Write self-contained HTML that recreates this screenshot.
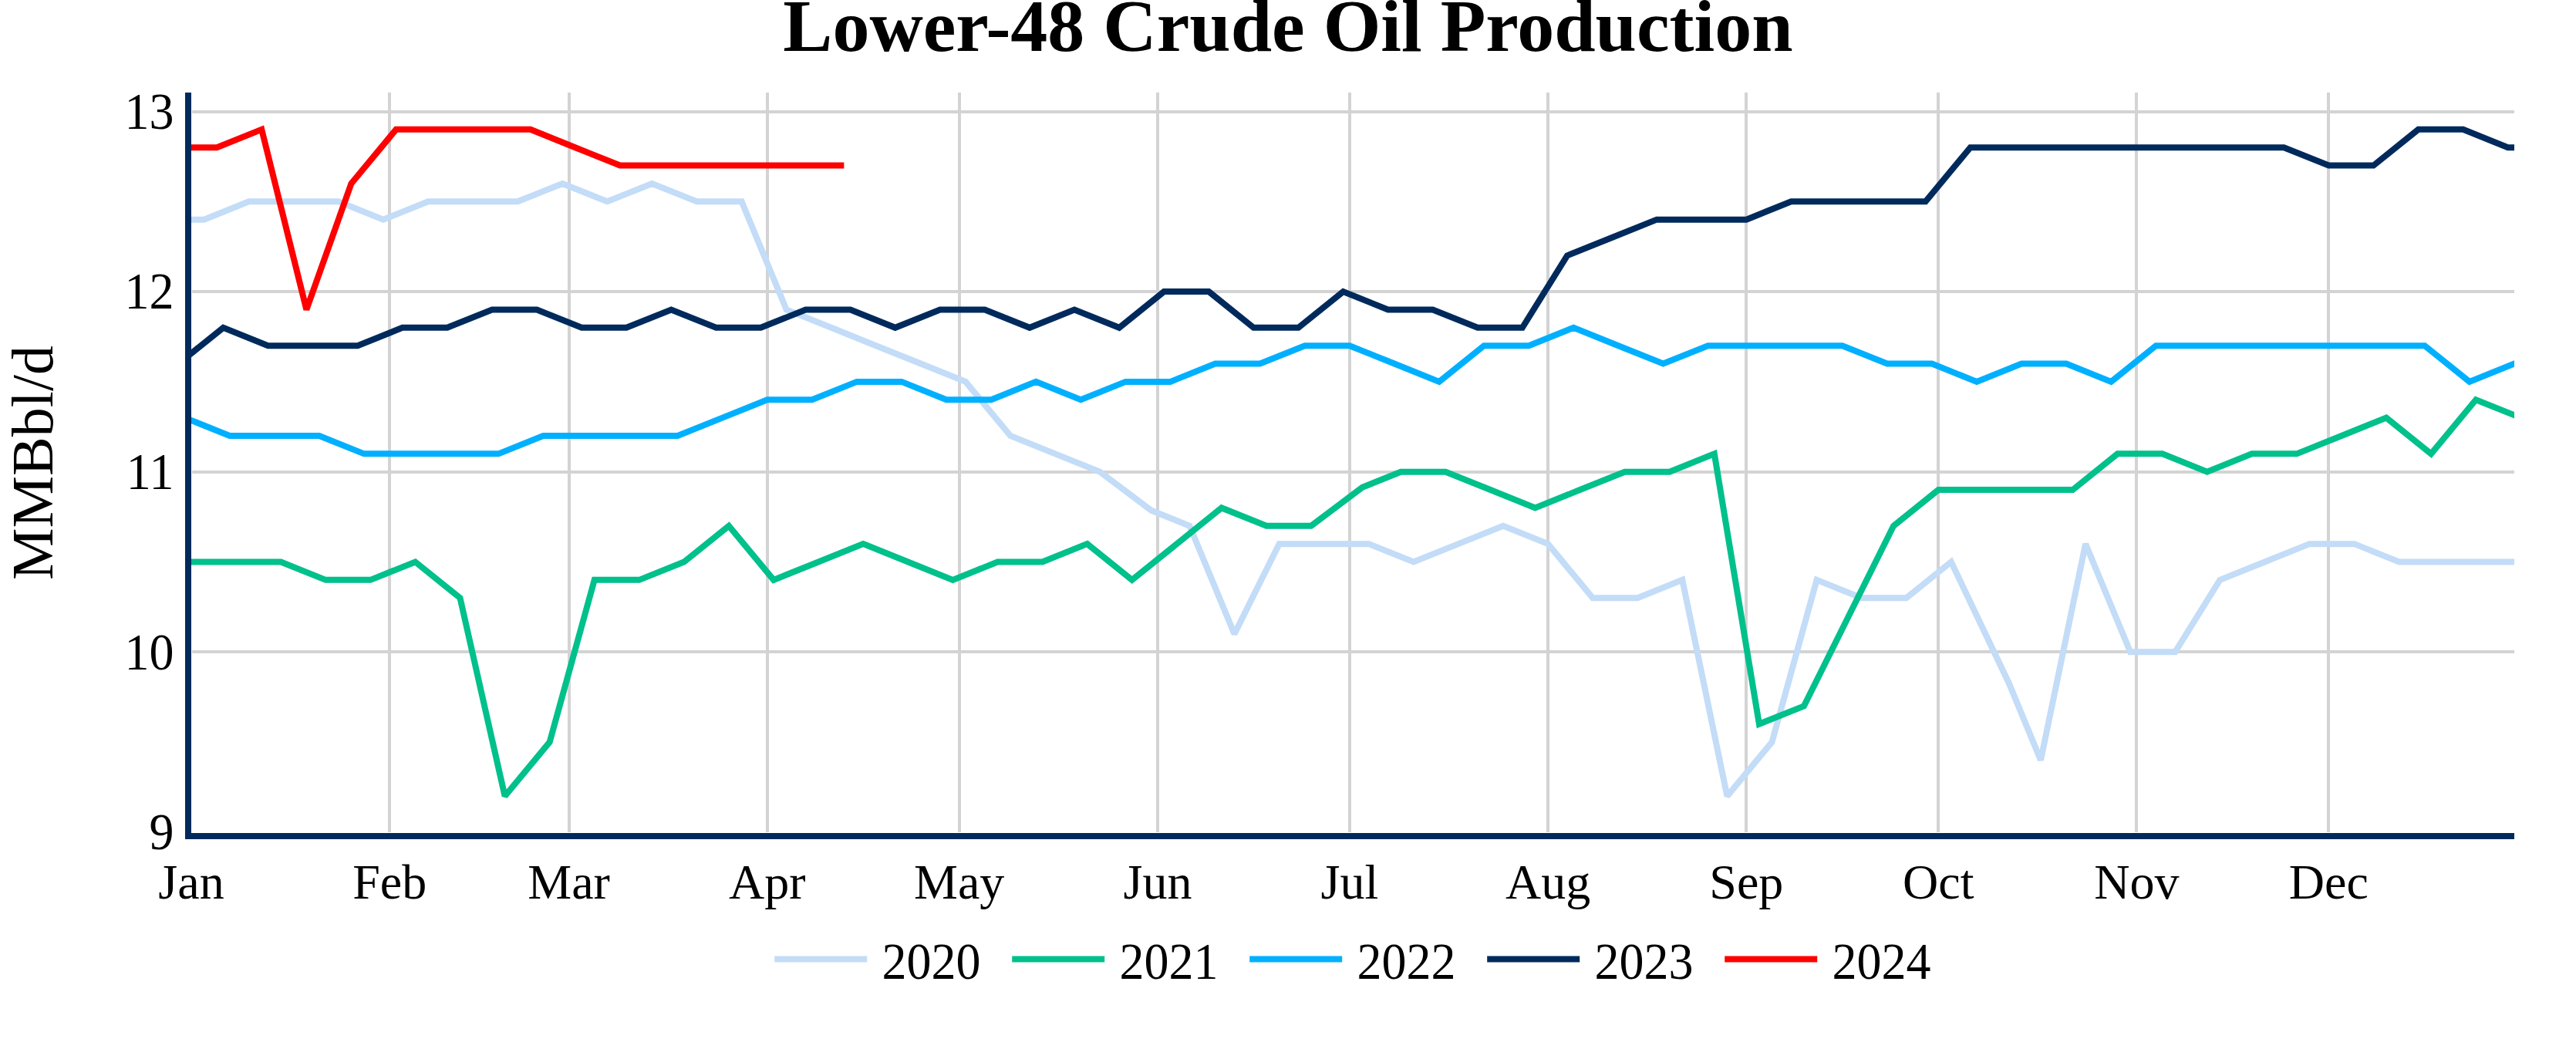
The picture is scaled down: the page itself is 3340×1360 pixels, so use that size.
<!DOCTYPE html>
<html><head><meta charset="utf-8"><title>Lower-48 Crude Oil Production</title>
<style>html,body{margin:0;padding:0;background:#fff;overflow:hidden;width:3340px;height:1360px}svg{display:block}text{font-family:"Liberation Serif",serif;fill:#000}</style></head><body>
<svg width="3340" height="1360" viewBox="0 0 3340 1360">
<rect width="3340" height="1360" fill="#fff"/>
<defs><clipPath id="c"><rect x="248" y="120" width="3012" height="960"/></clipPath></defs>
<g stroke="#d3d3d3" stroke-width="4" fill="none">
<path d="M505,120 V1079"/>
<path d="M738,120 V1079"/>
<path d="M995,120 V1079"/>
<path d="M1244,120 V1079"/>
<path d="M1501,120 V1079"/>
<path d="M1750,120 V1079"/>
<path d="M2007,120 V1079"/>
<path d="M2264,120 V1079"/>
<path d="M2513,120 V1079"/>
<path d="M2770,120 V1079"/>
<path d="M3019,120 V1079"/>
<path d="M249,845 H3260"/>
<path d="M249,612 H3260"/>
<path d="M249,378 H3260"/>
<path d="M249,145 H3260"/>
</g>
<g clip-path="url(#c)" fill="none" stroke-width="8" stroke-miterlimit="2" stroke-linejoin="miter">
<path d="M206.51,284.66 L264.60,284.66 L322.68,261.30 L380.76,261.30 L438.84,261.30 L496.93,284.66 L555.01,261.30 L613.09,261.30 L671.17,261.30 L729.26,237.94 L787.34,261.30 L845.42,237.94 L903.50,261.30 L961.59,261.30 L1019.67,401.46 L1077.75,424.82 L1135.83,448.18 L1193.92,471.54 L1252.00,494.90 L1310.08,564.98 L1368.17,588.34 L1426.25,611.70 L1492.63,661.69 L1542.41,681.78 L1600.50,821.94 L1658.58,705.14 L1716.66,705.14 L1774.74,705.14 L1832.83,728.50 L1890.91,705.14 L1948.99,681.78 L2007.07,705.14 L2065.16,775.22 L2123.24,775.22 L2181.32,751.86 L2239.40,1032.18 L2297.49,962.10 L2355.57,751.86 L2413.65,775.22 L2471.74,775.22 L2529.82,728.50 L2604.50,885.25 L2645.98,985.46 L2704.07,705.14 L2762.15,845.30 L2820.23,845.30 L2878.31,751.86 L2936.40,728.50 L2994.48,705.14 L3052.56,705.14 L3110.64,728.50 L3168.73,728.50 L3226.81,728.50 L3284.89,728.50" stroke="#c3dcf7"/>
<path d="M189.92,728.50 L248.00,728.50 L306.08,728.50 L364.17,728.50 L422.25,751.86 L480.33,751.86 L538.41,728.50 L596.50,775.22 L654.58,1032.18 L712.66,962.10 L770.74,751.86 L828.83,751.86 L886.91,728.50 L944.99,681.78 L1003.07,751.86 L1061.16,728.50 L1119.24,705.14 L1177.32,728.50 L1235.40,751.86 L1293.49,728.50 L1351.57,728.50 L1409.65,705.14 L1467.74,751.86 L1525.82,705.14 L1583.90,658.42 L1641.98,681.78 L1700.07,681.78 L1766.45,631.79 L1816.23,611.70 L1874.31,611.70 L1932.40,635.06 L1990.48,658.42 L2048.56,635.06 L2106.64,611.70 L2164.73,611.70 L2222.81,588.34 L2280.89,938.74 L2338.98,915.38 L2397.06,798.58 L2455.14,681.78 L2513.22,635.06 L2571.31,635.06 L2629.39,635.06 L2687.47,635.06 L2745.55,588.34 L2803.64,588.34 L2861.72,611.70 L2919.80,588.34 L2977.88,588.34 L3035.97,564.98 L3094.05,541.62 L3152.13,588.34 L3210.21,518.26 L3268.30,541.62" stroke="#00c08b"/>
<path d="M239.70,541.62 L297.79,564.98 L355.87,564.98 L413.95,564.98 L472.03,588.34 L530.12,588.34 L588.20,588.34 L646.28,588.34 L704.36,564.98 L762.45,564.98 L820.53,564.98 L878.61,564.98 L936.69,541.62 L994.78,518.26 L1052.86,518.26 L1110.94,494.90 L1169.02,494.90 L1227.11,518.26 L1285.19,518.26 L1343.27,494.90 L1401.36,518.26 L1459.44,494.90 L1517.52,494.90 L1575.60,471.54 L1633.69,471.54 L1691.77,448.18 L1749.85,448.18 L1807.93,471.54 L1866.02,494.90 L1924.10,448.18 L1982.18,448.18 L2040.26,424.82 L2098.35,448.18 L2156.43,471.54 L2214.51,448.18 L2272.60,448.18 L2330.68,448.18 L2388.76,448.18 L2446.84,471.54 L2504.93,471.54 L2563.01,494.90 L2621.09,471.54 L2679.17,471.54 L2737.26,494.90 L2795.34,448.18 L2853.42,448.18 L2911.50,448.18 L2969.59,448.18 L3027.67,448.18 L3085.75,448.18 L3143.83,448.18 L3201.92,494.90 L3260.00,471.54 L3318.08,448.18" stroke="#00b0ff"/>
<path d="M231.40,471.54 L289.49,424.82 L347.57,448.18 L405.65,448.18 L463.74,448.18 L521.82,424.82 L579.90,424.82 L637.98,401.46 L696.07,401.46 L754.15,424.82 L812.23,424.82 L870.31,401.46 L928.40,424.82 L986.48,424.82 L1044.56,401.46 L1102.64,401.46 L1160.73,424.82 L1218.81,401.46 L1276.89,401.46 L1334.98,424.82 L1393.06,401.46 L1451.14,424.82 L1509.22,378.10 L1567.31,378.10 L1625.39,424.82 L1683.47,424.82 L1741.55,378.10 L1799.64,401.46 L1857.72,401.46 L1915.80,424.82 L1973.88,424.82 L2031.97,331.38 L2090.05,308.02 L2148.13,284.66 L2206.21,284.66 L2264.30,284.66 L2322.38,261.30 L2380.46,261.30 L2438.55,261.30 L2496.63,261.30 L2554.71,191.22 L2612.79,191.22 L2670.88,191.22 L2728.96,191.22 L2787.04,191.22 L2845.12,191.22 L2903.21,191.22 L2961.29,191.22 L3019.37,214.58 L3077.45,214.58 L3135.54,167.86 L3193.62,167.86 L3251.70,191.22 L3309.79,191.22" stroke="#002a5c"/>
<path d="M223.11,191.22 L281.19,191.22 L339.27,167.86 L397.36,401.46 L455.44,237.94 L513.52,167.86 L571.60,167.86 L629.69,167.86 L687.77,167.86 L745.85,191.22 L803.93,214.58 L862.02,214.58 L920.10,214.58 L978.18,214.58 L1036.26,214.58 L1094.35,214.58" stroke="#ff0000"/>
</g>
<g fill="#002a5c">
<rect x="240" y="120" width="8" height="968"/>
<rect x="240" y="1080" width="3020" height="8"/>
</g>
<text x="1670" y="66.3" font-size="96" font-weight="bold" text-anchor="middle">Lower-48 Crude Oil Production</text>
<g font-size="64" text-anchor="end">
<text transform="translate(225.5,1101.20) scale(1,1.05)">9</text>
<text transform="translate(225.5,867.60) scale(1,1.05)">10</text>
<text transform="translate(225.5,634.00) scale(1,1.05)">11</text>
<text transform="translate(225.5,400.40) scale(1,1.05)">12</text>
<text transform="translate(225.5,166.80) scale(1,1.05)">13</text>
</g>
<g font-size="64" text-anchor="middle">
<text x="248.00" y="1165.2">Jan</text>
<text x="505.22" y="1165.2">Feb</text>
<text x="737.55" y="1165.2">Mar</text>
<text x="994.78" y="1165.2">Apr</text>
<text x="1243.70" y="1165.2">May</text>
<text x="1500.93" y="1165.2">Jun</text>
<text x="1749.85" y="1165.2">Jul</text>
<text x="2007.07" y="1165.2">Aug</text>
<text x="2264.30" y="1165.2">Sep</text>
<text x="2513.22" y="1165.2">Oct</text>
<text x="2770.45" y="1165.2">Nov</text>
<text x="3019.37" y="1165.2">Dec</text>
</g>
<text transform="translate(67.8,600) rotate(-90)" font-size="76" text-anchor="middle">MMBbl/d</text>
<g font-size="64">
<path d="M1004.2,1243.5 H1124.2" stroke="#c3dcf7" stroke-width="8" fill="none"/>
<text transform="translate(1143.4,1268.7) scale(1,1.05)">2020</text>
<path d="M1312.2,1243.5 H1432.2" stroke="#00c08b" stroke-width="8" fill="none"/>
<text transform="translate(1451.4,1268.7) scale(1,1.05)">2021</text>
<path d="M1620.2,1243.5 H1740.2" stroke="#00b0ff" stroke-width="8" fill="none"/>
<text transform="translate(1759.4,1268.7) scale(1,1.05)">2022</text>
<path d="M1928.2,1243.5 H2048.2" stroke="#002a5c" stroke-width="8" fill="none"/>
<text transform="translate(2067.4,1268.7) scale(1,1.05)">2023</text>
<path d="M2236.2,1243.5 H2356.2" stroke="#ff0000" stroke-width="8" fill="none"/>
<text transform="translate(2375.4,1268.7) scale(1,1.05)">2024</text>
</g>
</svg></body></html>
